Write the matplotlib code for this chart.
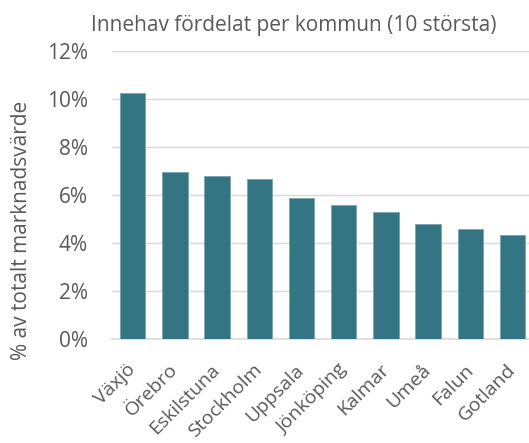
import matplotlib
matplotlib.use("Agg")
import matplotlib.pyplot as plt
from matplotlib.ticker import PercentFormatter

# Data
kommuner = ["Växjö", "Örebro", "Eskilstuna", "Stockholm", "Uppsala",
            "Jönköping", "Kalmar", "Umeå", "Falun", "Gotland"]
andel = [10.28, 6.97, 6.80, 6.68, 5.87, 5.58, 5.29, 4.79, 4.58, 4.33]
yticks = [0, 2, 4, 6, 8, 10, 12]

plt.rcParams["font.family"] = ["Open Sans", "DejaVu Sans"]
text_color = "#595959"
bar_color = "#347584"
grid_color = "#d9d9d9"

fig = plt.figure(figsize=(5.29, 4.43), dpi=100)
# plot area runs slightly past the right edge, like the cropped original
ax = fig.add_axes([111.6 / 529, 1 - 339.3 / 443, 422 / 529, 288 / 443])

ax.bar(range(len(kommuner)), andel, width=0.6, color=bar_color,
       edgecolor="#7aa5ae", linewidth=0.6, zorder=3)

ax.set_xlim(-0.5, len(kommuner) - 0.5)
ax.set_ylim(0, 12)
ax.set_yticks(yticks)
ax.yaxis.set_major_formatter(PercentFormatter(decimals=0))
ax.grid(axis="y", color=grid_color, linewidth=1.0, zorder=0)

for side in ["top", "right", "left"]:
    ax.spines[side].set_visible(False)
ax.spines["bottom"].set_color(grid_color)
ax.spines["bottom"].set_linewidth(1.2)

ax.tick_params(axis="y", length=0, pad=17, labelsize=15, labelcolor=text_color)
ax.tick_params(axis="x", length=0, pad=20, labelsize=14, labelcolor=text_color)
ax.set_xticks(range(len(kommuner)))
ax.set_xticklabels(kommuner, rotation=45, ha="right", va="center",
                   rotation_mode="anchor")

fig.text(294 / 529, 1 - 25 / 443, "Innehav fördelat per kommun (10 största)",
         ha="center", va="center", fontsize=15, color=text_color)
fig.text(22 / 529, 1 - 230 / 443, "% av totalt marknadsvärde",
         ha="center", va="center", rotation=90, fontsize=15, color=text_color)

fig.savefig("out.png", dpi=100)
